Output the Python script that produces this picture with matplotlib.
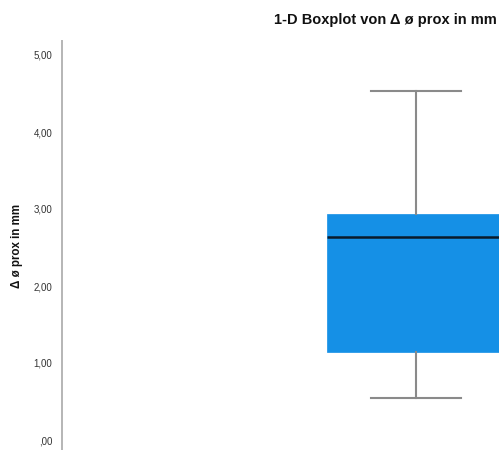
import matplotlib
matplotlib.use("Agg")
import matplotlib.pyplot as plt

# Box statistics
variable = "Δ ø prox in mm"
whisker_low = 0.54
q1 = 1.14
median = 2.63
q3 = 2.93
whisker_high = 4.53
yticks = [0, 1, 2, 3, 4, 5]
ytick_labels = [",00", "1,00", "2,00", "3,00", "4,00", "5,00"]

plt.rcParams['font.family'] = ['Liberation Sans', 'DejaVu Sans']

W, H = 499, 450
fig = plt.figure(figsize=(W / 100, H / 100), dpi=100)
ax_left = 62 / W
ax_top_px = 40.7
ax = fig.add_axes([ax_left, 0, 1 - ax_left, (H - ax_top_px) / H])

stats = [dict(med=median, q1=q1, q3=q3, whislo=whisker_low, whishi=whisker_high,
              fliers=[], label="")]
pos = (416 - 62) / (W - 62)
bw = 178 / (W - 62)
ax.bxp(stats, positions=[pos], widths=bw, capwidths=89 / (W - 62),
       patch_artist=True, showfliers=False,
       boxprops=dict(facecolor='#1590e6', edgecolor='#1590e6', linewidth=0.5),
       medianprops=dict(color='#0a1a2a', linewidth=1.8),
       whiskerprops=dict(color='#8a8a8a', linewidth=1.5),
       capprops=dict(color='#8a8a8a', linewidth=1.5))

ax.set_xlim(0, 1)
ax.set_ylim((440 - 450) / 77, (440 - ax_top_px) / 77)
ax.set_yticks(yticks)
ax.set_yticklabels(ytick_labels, fontsize=7, color='#333333')
ax.tick_params(axis='y', length=0, pad=7)
ax.set_xticks([])
for s in ['top', 'right', 'bottom']:
    ax.spines[s].set_visible(False)
ax.spines['left'].set_color('#b5b5b5')
ax.spines['left'].set_linewidth(1.4)
ax.set_facecolor('white')

fig.text(17 / W, 1 - 246 / H, "Δ ø prox in mm", rotation=90, ha='center', va='center',
         fontsize=8.3, fontweight='bold', color='#111111')
fig.text(385.5 / W, 1 - 20 / H, "1-D Boxplot von Δ ø prox in mm", ha='center', va='center',
         fontsize=10.5, fontweight='bold', color='#111111')

fig.savefig("out.png", dpi=100)
